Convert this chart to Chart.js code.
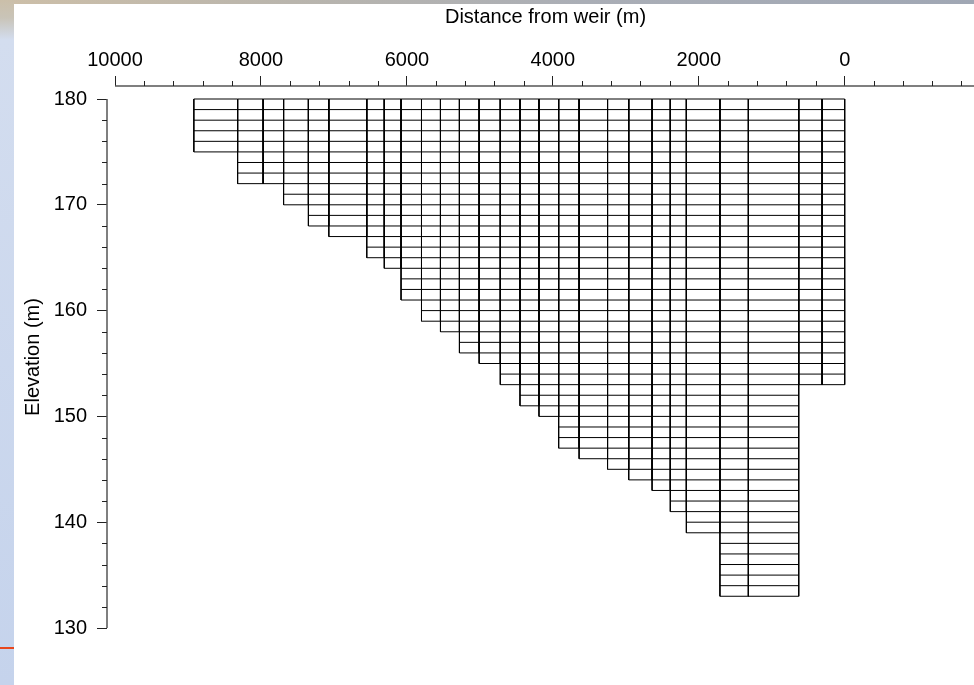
<!DOCTYPE html>
<html>
<head>
<meta charset="utf-8">
<script src="https://cdn.jsdelivr.net/npm/chart.js@4.4.1/dist/chart.umd.min.js"></script>
<style>
  html, body { margin: 0; padding: 0; background: #fff; overflow: hidden; }
  #wrap { position: relative; width: 974px; height: 685px; overflow: hidden; }
  #topstrip { position: absolute; left: 0; top: 0; width: 974px; height: 4px;
    background: linear-gradient(to right, #cdbfa8, #b9b5ad 30%, #aaaeb6 60%, #a0a7b4); }
  #sidestrip { position: absolute; left: 0; top: 0; width: 14px; height: 685px;
    background: linear-gradient(to bottom, #cbbfa9 0px, #c9c4b8 18px, #d3ddef 40px, #c5d3ec 685px); }
  #redline { position: absolute; left: 0; top: 647px; width: 14px; height: 2px; background: #e8461c; }
  /* a bit wider than the window: the x axis runs off the right edge as in the slide */
  #chart-box { position: absolute; left: 0; top: 0; width: 984px; height: 685px; }
</style>
</head>
<body>
<div id="wrap">
  <div id="topstrip"></div>
  <div id="sidestrip"></div>
  <div id="redline"></div>
  <div id="chart-box"><canvas id="Grid"></canvas></div>
</div>
<script>
// segment boundaries, distance from weir (m), upstream -> weir
const segEdges = [8920, 8320, 7970, 7690, 7350, 7070, 6550, 6310, 6080, 5800, 5540, 5280, 5010, 4720,
                  4450, 4190, 3920, 3640, 3250, 2960, 2640, 2390, 2170, 1710, 1320, 630, 310, 0];
// bottom elevation of each segment (m)
const segBottoms = [175, 172, 172, 170, 168, 167, 165, 164, 161, 159, 158, 156, 155, 153,
                    151, 150, 147, 146, 145, 144, 143, 141, 139, 133, 133, 153, 153];
const surfaceElev = 180;
const layerThick = 1;

const xTicks = [10000, 8000, 6000, 4000, 2000, 0];
const yTicks = [130, 140, 150, 160, 170, 180];
const xMinorStep = 400;
const yMinorStep = 2;

const font = { family: '"Liberation Sans", Arial, sans-serif', size: 20, lineHeight: 1.2 };

// outline of every cell as line pieces, broken by null points
const cellLines = [];
function piece(x1, y1, x2, y2) {
    cellLines.push({x: x1, y: y1}, {x: x2, y: y2}, {x: x2, y: null});
}
segBottoms.forEach((bot, i) => {
    const up = segEdges[i], down = segEdges[i + 1];
    piece(up, surfaceElev, up, bot);
    piece(down, surfaceElev, down, bot);
    for (let z = surfaceElev; z >= bot; z -= layerThick) piece(up, z, down, z);
});

// axis lines that stop at the end ticks, plus the short minor ticks
const axisLines = {
    id: 'axisLines',
    afterDraw(chart) {
        const {ctx, chartArea, scales: {x, y}} = chart;
        ctx.save();
        ctx.strokeStyle = '#555';
        ctx.lineWidth = 1.5;
        ctx.beginPath();
        ctx.moveTo(x.getPixelForValue(xTicks[0]), chartArea.top);
        ctx.lineTo(chartArea.right, chartArea.top);
        ctx.moveTo(chartArea.left, y.getPixelForValue(yTicks[yTicks.length - 1]));
        ctx.lineTo(chartArea.left, y.getPixelForValue(yTicks[0]));
        ctx.stroke();

        ctx.strokeStyle = '#222';
        ctx.lineWidth = 1;
        ctx.beginPath();
        for (let v = xTicks[0]; v >= x.min; v -= xMinorStep) {
            if (xTicks.includes(v)) continue;
            const px = Math.round(x.getPixelForValue(v)) + 0.5;
            ctx.moveTo(px, chartArea.top);
            ctx.lineTo(px, chartArea.top - 5);
        }
        for (let v = yTicks[0]; v <= yTicks[yTicks.length - 1]; v += yMinorStep) {
            if (yTicks.includes(v)) continue;
            const py = Math.round(y.getPixelForValue(v)) + 0.5;
            ctx.moveTo(chartArea.left, py);
            ctx.lineTo(chartArea.left - 5, py);
        }
        ctx.stroke();
        ctx.restore();
    }
};

new Chart(document.getElementById('Grid'), {
    type: 'line',
    data: {
        datasets: [{
            data: cellLines,
            borderColor: '#000',
            borderWidth: 1,
            pointRadius: 0,
            fill: false,
            tension: 0,
            spanGaps: false
        }]
    },
    options: {
        responsive: true,
        maintainAspectRatio: false,
        animation: false,
        layout: { padding: { top: 0, left: 0, right: 0, bottom: 57 } },
        plugins: {
            legend: { display: false },
            tooltip: { enabled: false }
        },
        scales: {
            x: {
                type: 'linear',
                position: 'top',
                reverse: true,
                min: -1909,
                max: 10110,
                afterFit: s => { s.height = 86; },
                afterBuildTicks: s => { s.ticks = xTicks.map(v => ({value: v})); },
                border: { display: false },
                grid: { drawOnChartArea: false, drawTicks: true, tickLength: 10, tickColor: '#222', tickWidth: 1 },
                ticks: { color: '#000', font: font, padding: 4, maxRotation: 0, autoSkip: false,
                         callback: v => String(v) },
                title: { display: true, text: 'Distance from weir (m)', color: '#000', font: font,
                         padding: { top: 5, bottom: 0 } }
            },
            y: {
                type: 'linear',
                position: 'left',
                min: 130,
                max: 181.23,
                afterFit: s => { s.width = 107; },
                afterBuildTicks: s => { s.ticks = yTicks.map(v => ({value: v})); },
                border: { display: false },
                grid: { drawOnChartArea: false, drawTicks: true, tickLength: 10, tickColor: '#222', tickWidth: 1 },
                ticks: { color: '#000', font: font, padding: 10, autoSkip: false,
                         callback: v => String(v) },
                title: { display: true, text: 'Elevation (m)', color: '#000', font: font,
                         padding: { top: 21, bottom: 0 } }
            }
        }
    },
    plugins: [axisLines]
});
</script>
</body>
</html>
